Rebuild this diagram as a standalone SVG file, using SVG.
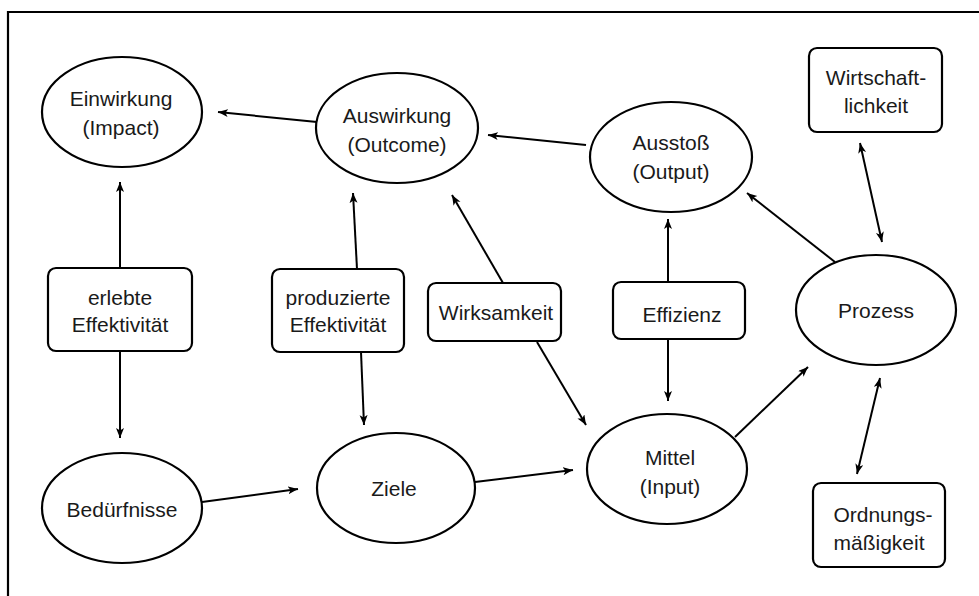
<svg xmlns="http://www.w3.org/2000/svg" width="979" height="596" viewBox="0 0 979 596">
<style>
  .shape { fill: #ffffff; stroke: #000000; stroke-width: 2.2; }
  .lbl { font-family: "Liberation Sans", Arial, sans-serif; font-size: 21px; fill: #1a1a1a; text-anchor: middle; }
  .conn line { stroke: #000000; stroke-width: 2; fill: none; marker-end: url(#arr); }
  .conn line.both { marker-start: url(#arr); }
</style>
<defs>
  <marker id="arr" markerUnits="userSpaceOnUse" markerWidth="12" markerHeight="10" refX="10" refY="4" orient="auto-start-reverse">
    <path d="M0,0 L10,4 L0,8 L2.5,4 z" fill="#000000"/>
  </marker>
</defs>
<rect width="979" height="596" fill="#ffffff"/>
<path d="M8,596 L8,12 L979,12" fill="none" stroke="#000000" stroke-width="2.2"/>

<g id="connectors" class="conn">
  <line x1="317" y1="122" x2="218" y2="112"/>
  <line x1="586" y1="145" x2="488" y2="135"/>
  <line x1="120" y1="268" x2="120" y2="182"/>
  <line x1="120" y1="351" x2="120" y2="438"/>
  <line x1="357" y1="269" x2="353" y2="193"/>
  <line x1="361" y1="352" x2="364" y2="425"/>
  <line x1="503" y1="283" x2="452" y2="195"/>
  <line x1="537" y1="342" x2="586" y2="425"/>
  <line x1="668" y1="282" x2="668" y2="219"/>
  <line x1="668" y1="339" x2="668" y2="401"/>
  <line x1="835" y1="262" x2="747" y2="193"/>
  <line class="both" x1="860" y1="143" x2="882" y2="242"/>
  <line x1="735" y1="437" x2="808" y2="367"/>
  <line class="both" x1="880" y1="378" x2="857" y2="474"/>
  <line x1="202" y1="502" x2="298" y2="489"/>
  <line x1="475" y1="482" x2="573" y2="470"/>
</g>

<g id="einwirkung">
  <ellipse class="shape" cx="122" cy="112" rx="80" ry="55"/>
  <text class="lbl" x="121" y="106">Einwirkung</text>
  <text class="lbl" x="121" y="135">(Impact)</text>
</g>
<g id="auswirkung">
  <ellipse class="shape" cx="397" cy="128" rx="81" ry="55"/>
  <text class="lbl" x="397" y="123">Auswirkung</text>
  <text class="lbl" x="397" y="152">(Outcome)</text>
</g>
<g id="ausstoss">
  <ellipse class="shape" cx="671" cy="157" rx="81" ry="55"/>
  <text class="lbl" x="671" y="150">Ausstoß</text>
  <text class="lbl" x="671" y="179">(Output)</text>
</g>
<g id="wirtschaftlichkeit">
  <rect class="shape" x="809" y="48" width="133" height="84" rx="8"/>
  <text class="lbl" x="876" y="85">Wirtschaft-</text>
  <text class="lbl" x="876" y="113">lichkeit</text>
</g>
<g id="erlebte">
  <rect class="shape" x="48" y="268" width="144" height="83" rx="8"/>
  <text class="lbl" x="120" y="305">erlebte</text>
  <text class="lbl" x="120" y="332">Effektivität</text>
</g>
<g id="produzierte">
  <rect class="shape" x="272" y="269" width="132" height="83" rx="8"/>
  <text class="lbl" x="338" y="305">produzierte</text>
  <text class="lbl" x="338" y="332">Effektivität</text>
</g>
<g id="wirksamkeit">
  <rect class="shape" x="428" y="283" width="133" height="58" rx="8"/>
  <text class="lbl" x="496" y="320">Wirksamkeit</text>
</g>
<g id="effizienz">
  <rect class="shape" x="613" y="282" width="132" height="57" rx="8"/>
  <text class="lbl" x="682" y="322">Effizienz</text>
</g>
<g id="prozess">
  <ellipse class="shape" cx="876" cy="310" rx="80" ry="55"/>
  <text class="lbl" x="876" y="318">Prozess</text>
</g>
<g id="mittel">
  <ellipse class="shape" cx="667" cy="469" rx="80" ry="55"/>
  <text class="lbl" x="670" y="465">Mittel</text>
  <text class="lbl" x="670" y="494">(Input)</text>
</g>
<g id="ordnungsmaessigkeit">
  <rect class="shape" x="813" y="483" width="132" height="84" rx="8"/>
  <text class="lbl" x="883" y="522">Ordnungs-</text>
  <text class="lbl" x="879" y="550">mäßigkeit</text>
</g>
<g id="ziele">
  <ellipse class="shape" cx="396" cy="488" rx="79" ry="55"/>
  <text class="lbl" x="394" y="496">Ziele</text>
</g>
<g id="beduerfnisse">
  <ellipse class="shape" cx="122" cy="508" rx="80" ry="55"/>
  <text class="lbl" x="122" y="517">Bedürfnisse</text>
</g>
</svg>
